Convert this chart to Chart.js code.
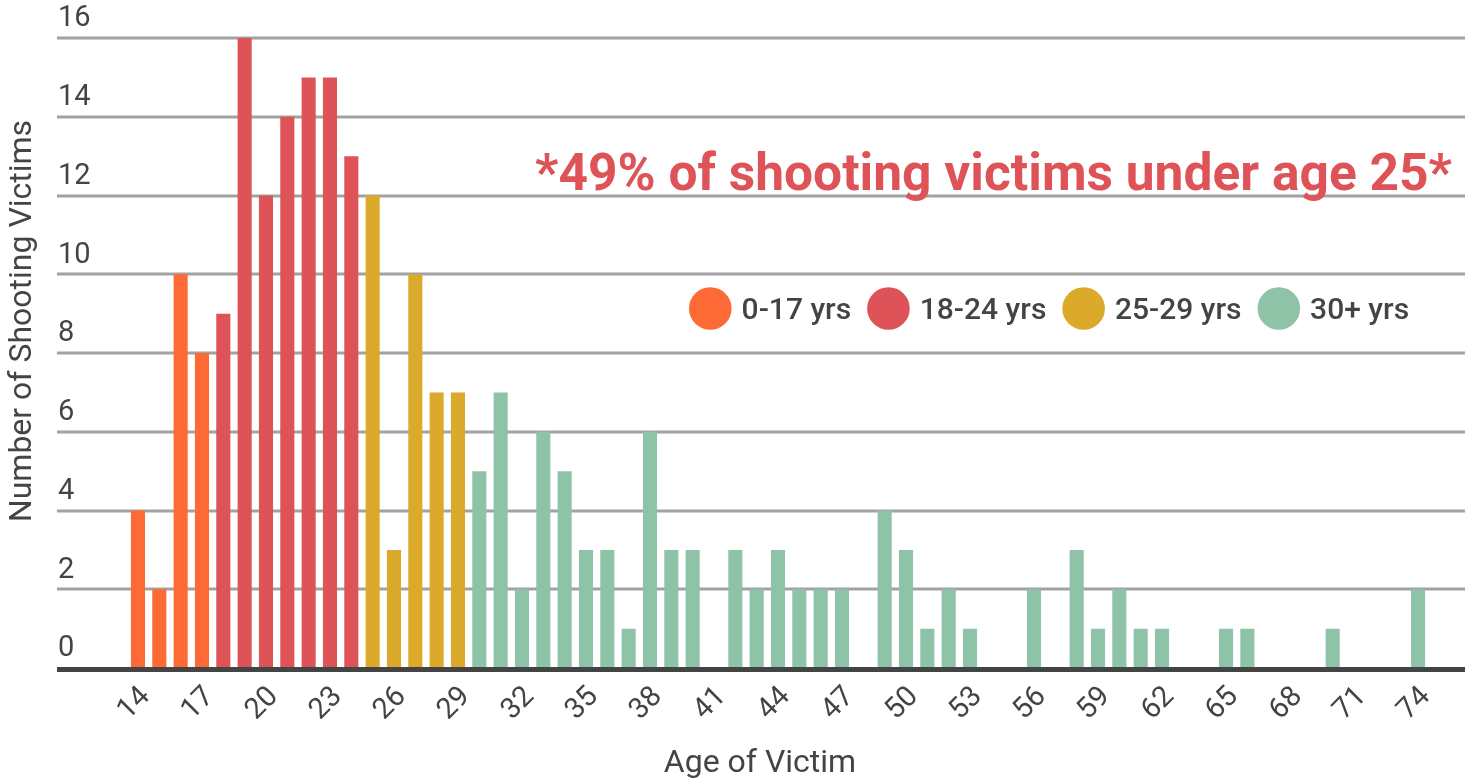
<!DOCTYPE html>
<html>
<head>
<meta charset="utf-8">
<script src="https://cdn.jsdelivr.net/npm/chart.js@4.4.1/dist/chart.umd.min.js"></script>
<style>
  html, body { margin: 0; padding: 0; background: #fff; }
  canvas { display: block; }
</style>
</head>
<body>
<canvas id="ageChart" width="1472" height="784"></canvas>
<script>
// ages shown on the x axis
const ages = [14, 15, 16, 17, 18, 19, 20, 21, 22, 23, 24, 25, 26, 27, 28, 29, 30, 31, 32, 33,
  34, 35, 36, 37, 38, 39, 40, 41, 42, 43, 44, 45, 46, 47, 48, 49, 50, 51, 52, 53,
  54, 55, 56, 57, 58, 59, 60, 61, 62, 63, 64, 65, 66, 67, 68, 69, 70, 71, 72, 73, 74];
// number of shooting victims per age
const victims = [4, 2, 10, 8, 9, 16, 12, 14, 15, 15, 13, 12, 3, 10, 7, 7, 5, 7, 2, 6,
  5, 3, 3, 1, 6, 3, 3, 0, 3, 2, 3, 2, 2, 2, 0, 4, 3, 1, 2, 1,
  0, 0, 2, 0, 3, 1, 2, 1, 1, 0, 0, 1, 1, 0, 0, 0, 1, 0, 0, 0, 2];
// age groups (first age of each group) and their legend text
const groupStarts = [0, 18, 25, 30];
const groupLabels = ['0-17 yrs', '18-24 yrs', '25-29 yrs', '30+ yrs'];
const groupColors = ['#FE6A36', '#DD5357', '#DCAA2B', '#8EC3A8'];
const yTicks = [0, 2, 4, 6, 8, 10, 12, 14, 16];
const note = '*49% of shooting victims under age 25*';
const xTitle = 'Age of Victim';
const yTitle = 'Number of Shooting Victims';

const textColor = '#444444';

function groupOf(age) {
  let g = 0;
  groupStarts.forEach((s, i) => { if (age >= s) g = i; });
  return g;
}

// grid lines + thick zero line, running from the left label column to the right edge
const gridPlugin = {
  id: 'gridLines',
  beforeDatasetsDraw(chart) {
    const ctx = chart.ctx;
    const y = chart.scales.y;
    ctx.save();
    ctx.fillStyle = '#A2A2A2';
    yTicks.forEach(v => {
      if (v === 0) return;
      const py = Math.round(y.getPixelForValue(v));
      ctx.fillRect(57, py - 1.5, 1408, 3);
    });
    ctx.restore();
  },
  afterDatasetsDraw(chart) {
    const ctx = chart.ctx;
    const py = chart.scales.y.getPixelForValue(0);
    ctx.save();
    ctx.fillStyle = '#444444';
    ctx.fillRect(57, py - 1, 1408, 5);
    ctx.restore();
  }
};

// axis titles, note text and the circle legend
const extrasPlugin = {
  id: 'extras',
  afterDraw(chart) {
    const ctx = chart.ctx;
    ctx.save();

    ctx.fillStyle = textColor;
    ctx.font = '32px Roboto';
    ctx.textAlign = 'center';
    ctx.textBaseline = 'middle';
    ctx.fillText(xTitle, 760, 764);
    ctx.save();
    ctx.translate(23, 321);
    ctx.rotate(-Math.PI / 2);
    ctx.fillText(yTitle, 0, 0);
    ctx.restore();

    ctx.fillStyle = '#DD5357';
    ctx.font = 'bold 51.5px Roboto';
    ctx.textAlign = 'right';
    ctx.textBaseline = 'alphabetic';
    ctx.fillText(note, 1452, 190);

    ctx.font = '500 30px Roboto';
    ctx.textAlign = 'left';
    ctx.textBaseline = 'middle';
    let x = 689;
    const cy = 308.5, r = 21.3;
    groupLabels.forEach((lbl, i) => {
      ctx.fillStyle = groupColors[i];
      ctx.beginPath();
      ctx.arc(x + r, cy, r, 0, Math.PI * 2);
      ctx.fill();
      x += 2 * r + 10;
      ctx.fillStyle = textColor;
      ctx.fillText(lbl, x, cy + 3);
      x += ctx.measureText(lbl).width + 16;
    });
    ctx.restore();
  }
};

function draw() {
  const ctx = document.getElementById('ageChart').getContext('2d');
  new Chart(ctx, {
    type: 'bar',
    data: {
      labels: ages,
      datasets: [{
        data: victims,
        backgroundColor: c => groupColors[groupOf(ages[c.dataIndex])],
        barPercentage: 0.66,
        categoryPercentage: 1.0,
        borderWidth: 0
      }]
    },
    options: {
      responsive: false,
      animation: false,
      layout: { padding: { top: 38, right: 43.3, bottom: 0, left: 58 } },
      plugins: {
        legend: { display: false },
        tooltip: { enabled: false }
      },
      scales: {
        x: {
          grid: { display: false },
          border: { display: false },
          ticks: {
            autoSkip: false,
            minRotation: 45,
            maxRotation: 45,
            color: textColor,
            font: { family: 'Roboto', size: 29 },
            padding: 4,
            labelOffset: 8,
            callback: function (val, i) { return (ages[i] - ages[0]) % 3 === 0 ? String(ages[i]) : ''; }
          },
          afterFit: s => { s.height = 116; }
        },
        y: {
          min: 0,
          max: 16,
          grid: { display: false },
          border: { display: false },
          ticks: {
            stepSize: 2,
            color: textColor,
            font: { family: 'Roboto', size: 29 },
            crossAlign: 'far',
            labelOffset: -19,
            padding: 0
          },
          afterFit: s => { s.width = 69.3; }
        }
      }
    },
    plugins: [gridPlugin, extrasPlugin]
  });
}

if (document.fonts && document.fonts.load) {
  Promise.all([
    document.fonts.load('29px Roboto'),
    document.fonts.load('500 30px Roboto'),
    document.fonts.load('bold 51px Roboto')
  ]).then(draw, draw);
} else {
  draw();
}
</script>
</body>
</html>
